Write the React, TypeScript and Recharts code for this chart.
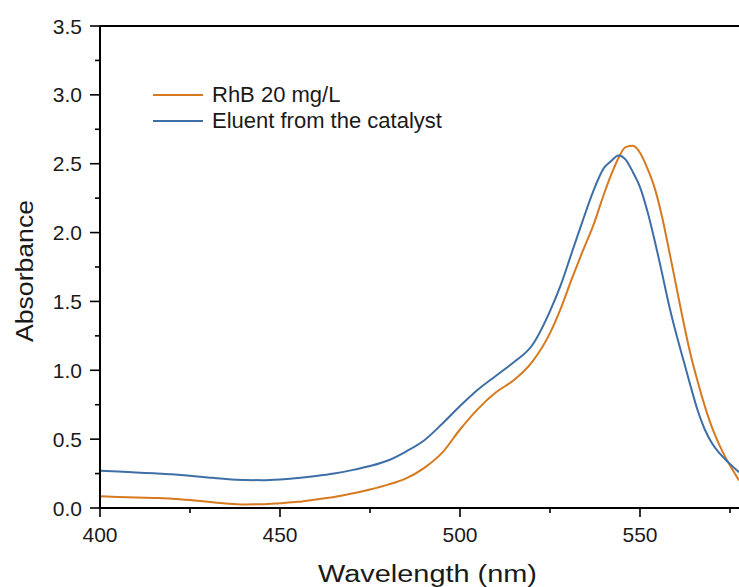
import React from "react";
import { LineChart, Line, XAxis, YAxis, Legend, ReferenceLine } from "recharts";

const wavelengths = [
  400, 405, 410, 415, 420, 425, 430, 435, 440, 445, 450, 455, 460, 465, 470, 475, 480, 485, 490, 495,
  500, 505, 510, 515, 520, 525, 528, 531, 534, 537, 540, 542, 544, 546, 548, 550, 552, 554, 556, 558,
  560, 562, 564, 566, 568, 570, 572, 574, 576, 577.5,
];

const rhbValues = [
  0.085, 0.08, 0.077, 0.073, 0.068, 0.058, 0.045, 0.033, 0.026, 0.027, 0.035, 0.045, 0.062, 0.08, 0.105, 0.135, 0.17, 0.215, 0.29, 0.4,
  0.57, 0.72, 0.84, 0.93, 1.06, 1.27, 1.45, 1.66, 1.86, 2.05, 2.28, 2.42, 2.54, 2.62, 2.63, 2.58, 2.47, 2.33, 2.13, 1.88,
  1.62, 1.36, 1.12, 0.92, 0.74, 0.585, 0.46, 0.355, 0.265, 0.2,
];

const eluentValues = [
  0.27, 0.265, 0.258, 0.252, 0.245, 0.235, 0.222, 0.21, 0.203, 0.202, 0.207, 0.218, 0.232, 0.25, 0.275, 0.305, 0.345, 0.41, 0.49, 0.61,
  0.74, 0.86, 0.96, 1.06, 1.18, 1.43, 1.62, 1.85, 2.08, 2.3, 2.47, 2.52, 2.56, 2.53, 2.44, 2.33, 2.16, 1.95, 1.72, 1.48,
  1.27, 1.08, 0.89, 0.71, 0.57, 0.47, 0.4, 0.345, 0.295, 0.26,
];

const xTicks = [400, 425, 450, 475, 500, 525, 550, 575];
const xMajor = [400, 450, 500, 550];
const yTicks = [0, 0.25, 0.5, 0.75, 1, 1.25, 1.5, 1.75, 2, 2.25, 2.5, 2.75, 3, 3.25, 3.5];
const yMajor = [0, 0.5, 1, 1.5, 2, 2.5, 3, 3.5];

const seriesNames = ["RhB 20 mg/L", "Eluent from the catalyst"];
const seriesColors = ["#D7791F", "#3D6FA6"];

const data = wavelengths.map((wl, i) => ({ wl, rhb: rhbValues[i], eluent: eluentValues[i] }));

const FONT = "'Liberation Sans', Arial, sans-serif";
const TEXT = "#1a1a1a";

const XTick = (props: any) => {
  const { x, y, payload } = props;
  const v = payload.value;
  const major = xMajor.includes(v);
  return (
    <g>
      <line x1={x} x2={x} y1={y} y2={y + (major ? 9 : 5)} stroke="#000" strokeWidth={1.6} />
      {major && (
        <text x={x} y={y + 34} textAnchor="middle" fontSize={21} fontFamily={FONT} fill={TEXT}>
          {v}
        </text>
      )}
    </g>
  );
};

const YTick = (props: any) => {
  const { x, y, payload } = props;
  const v = payload.value;
  const major = yMajor.includes(v);
  return (
    <g>
      <line x1={x - (major ? 10 : 5)} x2={x} y1={y} y2={y} stroke="#000" strokeWidth={1.6} />
      {major && (
        <text x={x - 18} y={y} dy="0.36em" textAnchor="end" fontSize={21} fontFamily={FONT} fill={TEXT}>
          {v.toFixed(1)}
        </text>
      )}
    </g>
  );
};

const renderLegend = () => (
  <svg width={320} height={56} style={{ display: "block" }}>
    {seriesNames.map((name, i) => (
      <g key={name}>
        <line x1={3} x2={53} y1={15 + i * 26} y2={15 + i * 26} stroke={seriesColors[i]} strokeWidth={2} />
        <text x={62} y={22 + i * 26} fontSize={22} fontFamily={FONT} fill={TEXT}>
          {name}
        </text>
      </g>
    ))}
  </svg>
);

const XTitle = () => (
  <text
    x={427.5}
    y={581.5}
    textAnchor="middle"
    fontSize={23}
    fontFamily={FONT}
    fill={TEXT}
    textLength={219}
    lengthAdjust="spacingAndGlyphs"
  >
    Wavelength (nm)
  </text>
);

const YTitle = () => (
  <text
    x={33}
    y={271}
    transform="rotate(-90, 33, 271)"
    textAnchor="middle"
    fontSize={23}
    fontFamily={FONT}
    fill={TEXT}
    textLength={142}
    lengthAdjust="spacingAndGlyphs"
  >
    Absorbance
  </text>
);

export default function App() {
  return (
    <div style={{ position: "absolute", left: 0, top: 0, background: "#fff" }}>
      <LineChart
        width={739}
        height={587}
        data={data}
        margin={{ top: 26, right: 0, left: 0, bottom: 0 }}
        style={{ fontFamily: FONT }}
      >
        <XAxis
          dataKey="wl"
          type="number"
          domain={[400, 577.5]}
          ticks={xTicks}
          interval={0}
          allowDataOverflow
          height={79}
          tickSize={0}
          tickMargin={0}
          tickLine={false}
          axisLine={{ stroke: "#000", strokeWidth: 2 }}
          tick={<XTick />}
          label={{ content: () => <XTitle /> }}
        />
        <YAxis
          type="number"
          domain={[0, 3.5]}
          ticks={yTicks}
          interval={0}
          allowDataOverflow
          width={100}
          tickSize={0}
          tickMargin={0}
          tickLine={false}
          axisLine={{ stroke: "#000", strokeWidth: 2 }}
          tick={<YTick />}
          label={{ content: () => <YTitle /> }}
        />
        <ReferenceLine y={3.5} stroke="#000" strokeWidth={2} />
        <Line
          type="monotone"
          dataKey="rhb"
          name={seriesNames[0]}
          stroke={seriesColors[0]}
          strokeWidth={2}
          dot={false}
          isAnimationActive={false}
        />
        <Line
          type="monotone"
          dataKey="eluent"
          name={seriesNames[1]}
          stroke={seriesColors[1]}
          strokeWidth={2}
          dot={false}
          isAnimationActive={false}
        />
        <Legend
          layout="vertical"
          align="center"
          verticalAlign="middle"
          content={renderLegend}
          wrapperStyle={{ position: "absolute", left: 150, top: 80, width: 320, height: 56 }}
        />
      </LineChart>
    </div>
  );
}
